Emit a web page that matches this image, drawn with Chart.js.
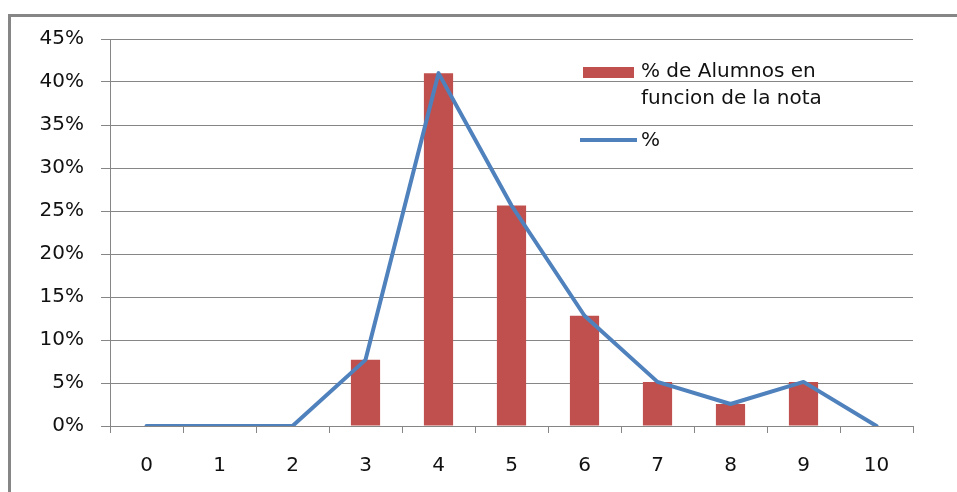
<!DOCTYPE html>
<html>
<head>
<meta charset="utf-8">
<script src="https://cdn.jsdelivr.net/npm/chart.js@4"></script>
<style>
  html, body { margin: 0; padding: 0; background: #fff; overflow: hidden; }
  #grafico { display: block; }
</style>
</head>
<body>
<canvas id="grafico" width="957" height="492"></canvas>
<script>
// Notas (eje X) y porcentaje de alumnos en cada nota
const notas = ['0', '1', '2', '3', '4', '5', '6', '7', '8', '9', '10'];
const porcentajeBarras = [0, 0, 0, 0.0769, 0.4103, 0.2564, 0.1282, 0.0513, 0.0256, 0.0513, 0];
const porcentajeLinea = [0, 0, 0, 0.0769, 0.4103, 0.2564, 0.1282, 0.0513, 0.0256, 0.0513, 0];
const ticksY = [0, 0.05, 0.10, 0.15, 0.20, 0.25, 0.30, 0.35, 0.40, 0.45];

const ROJO = '#C0504D';
const AZUL = '#4F81BD';
const GRIS = '#868686';
const FUENTE = '"DejaVu Sans", sans-serif';

// Marco gris y leyenda dibujada a mano (texto en dos lineas)
const marcoYLeyenda = {
  id: 'marcoYLeyenda',
  beforeDraw(chart) {
    const ctx = chart.ctx;
    ctx.save();
    ctx.fillStyle = '#fff';
    ctx.fillRect(0, 0, chart.width, chart.height);
    ctx.strokeStyle = GRIS;
    ctx.lineWidth = 3;
    ctx.strokeRect(9.5, 15.5, 1200, 800);
    ctx.restore();
  },
  afterDraw(chart) {
    const ctx = chart.ctx;
    const ds = chart.data.datasets;
    ctx.save();
    ctx.font = '20px ' + FUENTE;
    ctx.textBaseline = 'middle';
    ctx.textAlign = 'left';

    ctx.fillStyle = ds[0].backgroundColor;
    ctx.fillRect(583, 67, 51, 11);
    ctx.fillStyle = '#111';
    const lineas = ds[0].label.split('\n');
    lineas.forEach((t, i) => ctx.fillText(t, 641, 72 + i * 27));

    ctx.strokeStyle = ds[1].borderColor;
    ctx.lineWidth = 4;
    ctx.beginPath();
    ctx.moveTo(580, 140);
    ctx.lineTo(637, 140);
    ctx.stroke();
    ctx.fillText(ds[1].label, 641, 141);
    ctx.restore();
  }
};

const ctx = document.getElementById('grafico').getContext('2d');
new Chart(ctx, {
  type: 'bar',
  data: {
    labels: notas,
    datasets: [{
      type: 'bar',
      label: '% de Alumnos en\nfuncion de la nota',
      data: porcentajeBarras,
      backgroundColor: ROJO,
      borderWidth: 0,
      barPercentage: 0.4,
      categoryPercentage: 1,
      order: 2
    }, {
      type: 'line',
      label: '%',
      data: porcentajeLinea,
      borderColor: AZUL,
      borderWidth: 4,
      borderCapStyle: 'round',
      borderJoinStyle: 'round',
      pointRadius: 0,
      tension: 0,
      fill: false,
      order: 1
    }]
  },
  options: {
    responsive: false,
    animation: false,
    layout: { padding: { left: 0, top: 39, right: 44, bottom: 0 } },
    plugins: {
      legend: { display: false },
      tooltip: { enabled: false }
    },
    scales: {
      x: {
        afterFit: s => { s.height = 66; },
        grid: {
          offset: true,
          drawOnChartArea: false,
          drawTicks: true,
          tickLength: 7,
          color: GRIS
        },
        border: { color: GRIS, width: 1 },
        ticks: {
          color: '#111',
          padding: 21,
          font: { size: 20, family: FUENTE }
        }
      },
      y: {
        min: 0,
        max: 0.45,
        afterFit: s => { s.width = 110; },
        afterBuildTicks: s => { s.ticks = ticksY.map(v => ({ value: v })); },
        grid: {
          color: GRIS,
          drawTicks: true,
          tickLength: 9
        },
        border: { color: GRIS, width: 1 },
        ticks: {
          color: '#111',
          padding: 17,
          font: { size: 20, family: FUENTE },
          callback: v => Math.round(v * 100) + '%'
        }
      }
    }
  },
  plugins: [marcoYLeyenda]
});
</script>
</body>
</html>
